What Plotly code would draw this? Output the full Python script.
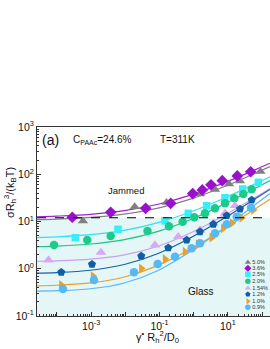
import plotly.graph_objects as go

# ---------------- data ----------------
labels = ["5.0%", "3.6%", "2.5%", "2.0%", "1.54%", "1.2%", "1.0%", "0.9%"]

# log10 of x for measured points, y values
x50 = [-3.240, -1.727, -0.796, 0.184, 0.623, 1.033, 1.355, 1.955]
y50 = [10.3, 20.6, 25.2, 38.2, 47.6, 62.2, 72, 114]

x36 = [-3.553, -2.429, -1.405, -0.673, -0.029, 0.252, 0.506, 0.837, 1.276, 1.668]
y36 = [12.3, 15.7, 19.0, 24.3, 39, 46.5, 60, 73, 92, 113]

x25 = [-3.465, -2.215, -0.840, -0.158, 0.380, 0.916, 1.434, 1.891]
y25 = [4.54, 6.84, 10.3, 14.9, 21.6, 31.9, 48.8, 67.6]

x20 = [-4.088, -3.114, -2.429, -1.352, -0.723, -0.322, 0.018, 0.331, 0.623, 0.916, 1.188, 1.452, 1.697]
y20 = [3.18, 4.06, 4.93, 6.29, 7.9, 9.9, 12.3, 14.9, 19.0, 24.3, 31.0, 38.2, 48.0]

x154 = [-4.249, -2.713, -1.133, -0.451, 0.184, 0.574, 0.916, 1.209]
y154 = [1.53, 2.21, 3.18, 4.77, 6.61, 9.16, 14.9, 21.6]

x12 = [-3.875, -2.976, -1.534, -0.743, -0.205, 0.184, 0.574, 0.966, 1.355, 1.697]
y12 = [0.84, 1.24, 1.86, 2.79, 4.06, 6.08, 8.73, 13.3, 18.4, 28.5]

x10 = [-3.875, -2.947, -1.534, -0.840, -0.255, 0.126, 0.527, 0.866, 1.121, 1.405, 1.744]
y10 = [0.453, 0.70, 1.02, 1.61, 2.30, 3.26, 4.54, 7.18, 9.3, 12.0, 17.5]

x09 = [-3.825, -2.918, -1.747, -1.054, -0.547, -0.059, 0.184, 0.623, 0.966, 1.258, 1.677]
y09 = [0.372, 0.578, 0.84, 1.26, 1.80, 2.71, 3.46, 5.63, 8.73, 12.6, 19.6]

# fitted curves read at these log10(x) positions
fit_x = [-4.6, -4.01, -3.02, -2.03, -1.04, -0.05, 0.94, 1.93, 2.23]
fit50 = [10.9, 11.2, 12.2, 14.3, 19.2, 30.5, 56.3, 115.5, 145]
fit36 = [12.6, 13.0, 14.2, 17.0, 23.2, 37.0, 68.0, 137, 171]
fit25 = [4.55, 4.71, 5.25, 6.5, 9.5, 16.3, 32.3, 69.5, 88]
fit20 = [2.92, 3.01, 3.34, 4.15, 6.2, 11.3, 24.2, 56.4, 73.5]
fit154 = [1.44, 1.47, 1.6, 1.97, 3.0, 5.9, 14.1, 37, 50]
fit12 = [0.81, 0.83, 0.93, 1.23, 2.1, 4.68, 12.3, 34.8, 47.8]
fit10 = [0.434, 0.448, 0.50, 0.67, 1.18, 2.72, 7.37, 21.4, 29.6]
fit09 = [0.336, 0.343, 0.377, 0.50, 0.92, 2.43, 7.78, 26.8, 39]

jam_level = 12

xs = [x50, x36, x25, x20, x154, x12, x10, x09]
ys = [y50, y36, y25, y20, y154, y12, y10, y09]
fits = [fit50, fit36, fit25, fit20, fit154, fit12, fit10, fit09]

# ---------------- styles ----------------
colors = ["#808080", "#9a10cc", "#38eef8", "#1ccb8c", "#d6aaf5", "#0f5fa6", "#e8a02c", "#55b9f6"]
line_colors = ["#808080", "#a020d0", "#30e2f0", "#1cc58a", "#c9a0f0", "#1460a8", "#e8a02c", "#55b9f6"]
symbols = ["triangle-up", "diamond", "square", "circle", "triangle-up", "pentagon", "triangle-right", "circle"]
sizes = [9, 9, 7.5, 8.5, 9.5, 8.5, 8.5, 8.5]

fig = go.Figure()

# fitted lines
for i in range(len(labels)):
    fig.add_trace(go.Scatter(
        x=[10 ** v for v in fit_x], y=fits[i], mode="lines",
        line=dict(color=line_colors[i], width=1.2, shape="spline", smoothing=1.0),
        showlegend=False, hoverinfo="skip"))

# data markers
for i in range(len(labels)):
    fig.add_trace(go.Scatter(
        x=[10 ** v for v in xs[i]], y=ys[i], mode="markers",
        marker=dict(symbol=symbols[i], color=colors[i], size=sizes[i], line=dict(width=0)),
        name=labels[i], showlegend=False))

# custom compact legend on an overlay axis
leg_y = [0.284, 0.252, 0.221, 0.184, 0.147, 0.115, 0.078, 0.046]
for i in range(len(labels)):
    fig.add_trace(go.Scatter(
        x=[0.905], y=[leg_y[i]], xaxis="x2", yaxis="y2", mode="markers+text",
        marker=dict(symbol=symbols[i], color=colors[i], size=5.5, line=dict(width=0)),
        text=[labels[i]], textposition="middle right",
        textfont=dict(size=5.5, color="#333333", family="Liberation Sans, Arial"),
        showlegend=False, hoverinfo="skip", cliponaxis=False))

W, H = 270, 349
L, T, B, R = 37, 127, 33, 0

major_x = [10.0 ** k for k in range(-4, 3)]
tx_text = []
for k in range(-4, 3):
    tx_text.append(f"10<sup>{k}</sup>" if k in (-3, -1, 1) else " ")
minor_x = [m * 10.0 ** k for k in range(-5, 3) for m in range(2, 10)]
major_y = [10.0 ** k for k in range(-1, 4)]
ty_text = [f"10<sup>{k}</sup>" for k in range(-1, 4)]
minor_y = [m * 10.0 ** k for k in range(-1, 3) for m in range(2, 10)]

axis_font = dict(family="Liberation Sans, Arial", size=10.5, color="#111111")

fig.update_layout(
    width=W, height=H,
    margin=dict(l=L, r=R, t=T, b=B, autoexpand=False),
    paper_bgcolor="white", plot_bgcolor="white",
    showlegend=False,
    font=dict(family="Liberation Sans, Arial", color="#111111"),
    xaxis=dict(type="log", range=[-4.585, 2.233], showgrid=False, zeroline=False,
               automargin=False,
               showline=True, linecolor="#333333", linewidth=1, mirror=True,
               ticks="inside", ticklen=4, tickcolor="#333333",
               tickmode="array", tickvals=major_x, ticktext=tx_text,
               tickfont=axis_font,
               minor=dict(tickmode="array", tickvals=minor_x, ticks="inside",
                          ticklen=2, tickcolor="#333333", showgrid=False)),
    yaxis=dict(type="log", range=[-1, 3], showgrid=False, zeroline=False,
               automargin=False,
               showline=True, linecolor="#333333", linewidth=1, mirror=True,
               ticks="inside", ticklen=4, tickcolor="#333333",
               tickmode="array", tickvals=major_y, ticktext=ty_text,
               tickfont=axis_font,
               minor=dict(tickmode="array", tickvals=minor_y, ticks="inside",
                          ticklen=2, tickcolor="#333333", showgrid=False)),
    xaxis2=dict(overlaying="x", range=[0, 1], visible=False, fixedrange=True, automargin=False),
    yaxis2=dict(overlaying="y", range=[0, 1], visible=False, fixedrange=True, automargin=False),
)

# glass region fill and jamming line
fig.add_shape(type="rect", xref="paper", yref="y", x0=0, x1=1, y0=0.1, y1=jam_level,
              fillcolor="#e4f6f6", line=dict(width=0), layer="below")
fig.add_shape(type="line", xref="paper", yref="y", x0=0, x1=1, y0=jam_level, y1=jam_level,
              line=dict(color="black", width=1.2, dash="dash"))

def px_x(p):
    return (p - L) / (W - L - R)

def px_y(p):
    return (H - B - p) / (H - T - B)

ann_font = "Liberation Sans, Arial"
fig.add_annotation(x=px_x(40), y=px_y(140), xref="paper", yref="paper", text="(a)",
                   showarrow=False, xanchor="left", yanchor="middle",
                   font=dict(size=14, family=ann_font, color="#111111"))
fig.add_annotation(x=px_x(71), y=px_y(140), xref="paper", yref="paper",
                   text="C<sub>PAAc</sub>=24.6%", showarrow=False,
                   xanchor="left", yanchor="middle",
                   font=dict(size=10, family=ann_font, color="#111111"))
fig.add_annotation(x=px_x(158), y=px_y(139), xref="paper", yref="paper",
                   text="T=311K", showarrow=False, xanchor="left", yanchor="middle",
                   font=dict(size=10, family=ann_font, color="#111111"))
fig.add_annotation(x=px_x(106), y=px_y(190), xref="paper", yref="paper",
                   text="Jammed", showarrow=False, xanchor="left", yanchor="middle",
                   font=dict(size=9.5, family=ann_font, color="#111111"))
fig.add_annotation(x=px_x(186), y=px_y(291), xref="paper", yref="paper",
                   text="Glass", showarrow=False, xanchor="left", yanchor="middle",
                   font=dict(size=10, family=ann_font, color="#111111"))
# axis titles
fig.add_annotation(x=px_x(10), y=px_y(193), xref="paper", yref="paper",
                   text="σR<sub>h</sub><sup>3</sup>/(k<sub>B</sub>T)", textangle=-90,
                   showarrow=False, xanchor="center", yanchor="middle",
                   font=dict(size=11, family=ann_font, color="#111111"))
fig.add_annotation(x=px_x(157), y=px_y(337), xref="paper", yref="paper",
                   text="γ<sup>•</sup> R<sub>h</sub><sup>2</sup>/D<sub>0</sub>",
                   showarrow=False, xanchor="center", yanchor="middle",
                   font=dict(size=11, family=ann_font, color="#111111"))

fig.write_html(
    "out.html",
    config={"displayModeBar": False},
    post_script="document.body.style.margin='0';document.body.style.overflow='hidden';",
)
